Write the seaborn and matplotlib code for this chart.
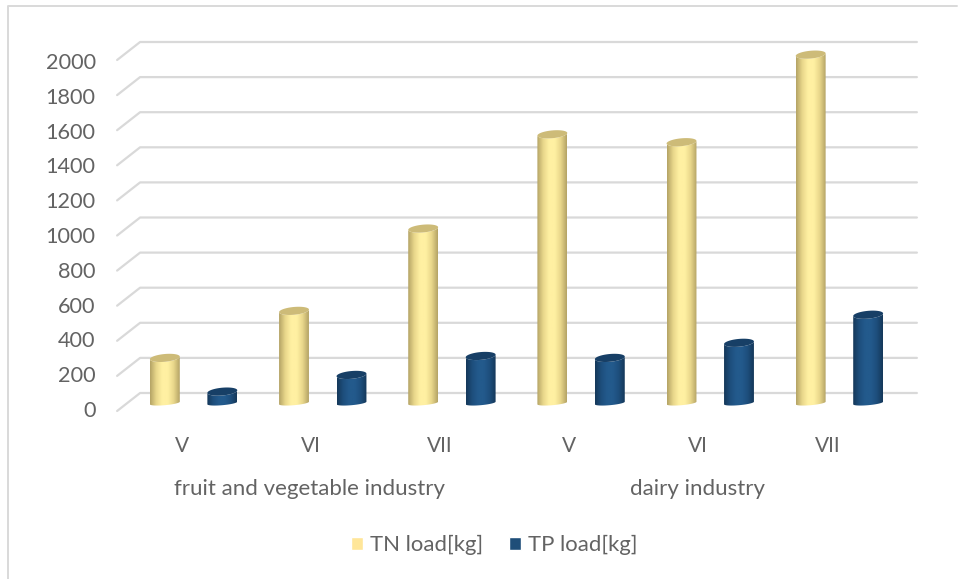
#!/usr/bin/env python3
import numpy as np
import pandas as pd
import matplotlib
matplotlib.use("Agg")
import matplotlib.pyplot as plt
import matplotlib.transforms as mtrans
from matplotlib.colors import LinearSegmentedColormap
from matplotlib.lines import Line2D
from matplotlib.patches import Polygon
import seaborn as sns

# ================= data =================
months = ["V", "VI", "VII", "V ", "VI ", "VII "]
tn_load = [257, 525, 994, 1531, 1486, 1985]
tp_load = [65, 160, 268, 257, 343, 503]
y_ticks = list(range(0, 2001, 200))
groups = ["fruit and vegetable industry", "dairy industry"]
group_pos = [0.9, 3.9]
series = ["TN load[kg]", "TP load[kg]"]

W, H = 964, 579
GRID = "#D9D9D9"
TEXT = "#636363"

df = pd.DataFrame({
    "month": months * 2,
    "load": tn_load + tp_load,
    "series": [series[0]] * 6 + [series[1]] * 6,
})

sns.set_style("white")
plt.rcParams["font.family"] = ["Lato", "DejaVu Sans"]

fig = plt.figure(figsize=(W / 100, H / 100), dpi=100)
# axes placed so that 0 sits at pixel y=403 and 2000 at y=52
ax = fig.add_axes([129 / W, 1 - 403 / H, 775 / W, 351 / H])

sns.barplot(data=df, x="month", y="load", hue="series", ax=ax,
            palette=["#FFE699", "#1F4E79"], width=0.89, gap=0.48, saturation=1)
ax.set_xlim(-0.5, 5.5)
ax.set_ylim(0, 2000)
ax.set_autoscale_on(False)
sns.move_legend(ax, "center", bbox_to_anchor=(0.5125, 0.0585),
                bbox_transform=fig.transFigure, ncol=2, title=None, frameon=False,
                fontsize=15.9, labelcolor=TEXT, handlelength=0.55, handleheight=0.55,
                handletextpad=0.32, columnspacing=1.15)

# floor and back wall grid, with the oblique run on the left
px_y = 351 / 2000
front_dy = -8 / px_y
back_dy = 10 / px_y
x_front, x_back, x_right = (117 - 193.5) / 129.2, (140 - 193.5) / 129.2, (917 - 193.5) / 129.2
for v in y_ticks:
    ax.plot([x_front, x_back, x_right], [v + front_dy, v + back_dy, v + back_dy],
            color=GRID, lw=1.6, clip_on=False, zorder=0.5)

# cylinders on top of the seaborn bars
body_cmaps = [
    LinearSegmentedColormap.from_list("tn", ["#B5A466", "#E8D68A", "#FFF0A2", "#FFF0A2", "#E8D68A", "#B5A466"]),
    LinearSegmentedColormap.from_list("tp", ["#15385A", "#1D4E7C", "#235A8C", "#235A8C", "#1D4E7C", "#15385A"]),
]
cap_colors = ["#CDBB78", "#173F66"]
grad = np.linspace(0, 1, 64).reshape(1, -1)
ry_top = 3.9 / px_y
ry_bottom = 2.2 / px_y
tilt = 1.3 / px_y
t = np.linspace(0, 2 * np.pi, 80)

for i, p in enumerate(ax.patches):
    x0, w, h = p.get_x(), p.get_width(), p.get_height()
    if w == 0:
        continue
    k = i // 6
    cx, a = x0 + w / 2, w / 2
    low = np.linspace(np.pi, 2 * np.pi, 40)
    high = np.linspace(2 * np.pi, np.pi, 40)
    ex = lambda tt: cx + a * np.cos(tt)
    ey = lambda tt, base, ry: base + ry * np.sin(tt) + tilt * np.cos(tt)
    body = np.column_stack([
        np.r_[ex(low), ex(high)],
        np.r_[ey(low, 0, ry_bottom), ey(high, h, ry_top)],
    ])
    poly = Polygon(body, closed=True, transform=ax.transData, facecolor="none", edgecolor="none")
    ax.add_patch(poly)
    img = ax.imshow(grad, cmap=body_cmaps[k], extent=(x0, x0 + w, -200, h + 200),
                    aspect="auto", zorder=3)
    img.set_clip_path(poly)
    img.set_clip_box(fig.bbox)
    cap = Polygon(np.column_stack([ex(t), ey(t, h, ry_top)]), closed=True, facecolor=cap_colors[k],
                  edgecolor="none", zorder=4, clip_on=False)
    ax.add_patch(cap)
    p.set_visible(False)

ax.set_xlim(-0.5, 5.5)
ax.set_ylim(0, 2000)

# axis text
sns.despine(ax=ax, left=True, bottom=True)
ax.grid(False)
ax.set_xlabel("")
ax.set_ylabel("")
ax.set_yticks(y_ticks)
ax.tick_params(axis="y", length=0, pad=24, labelsize=15.6, labelcolor=TEXT)
ax.tick_params(axis="x", length=0, pad=24, labelsize=15, labelcolor=TEXT)
ax.set_xticks(range(6))
ax.set_xticklabels([m.strip() for m in months])
for v, lab in zip(y_ticks, ax.get_yticklabels()):
    shift = mtrans.ScaledTranslation(0, -(6 + 3 * v / 2000) / 100, fig.dpi_scale_trans)
    lab.set_transform(lab.get_transform() + shift)
shift = mtrans.ScaledTranslation(-12 / 100, 0, fig.dpi_scale_trans)
for lab in ax.get_xticklabels():
    lab.set_transform(lab.get_transform() + shift)
ax.patch.set_alpha(0)

for name, xp in zip(groups, group_pos):
    ax.text(xp, 1 - 489 / H, name, transform=mtrans.blended_transform_factory(ax.transData, fig.transFigure),
            ha="center", va="center", fontsize=16, color=TEXT)

# chart frame, only top and left edges show in the crop
fig.add_artist(Line2D([8 / W, 8 / W, 957 / W], [0, 1 - 6 / H, 1 - 6 / H],
                      color=GRID, lw=1.4, transform=fig.transFigure))

fig.savefig("out.png", dpi=100)
